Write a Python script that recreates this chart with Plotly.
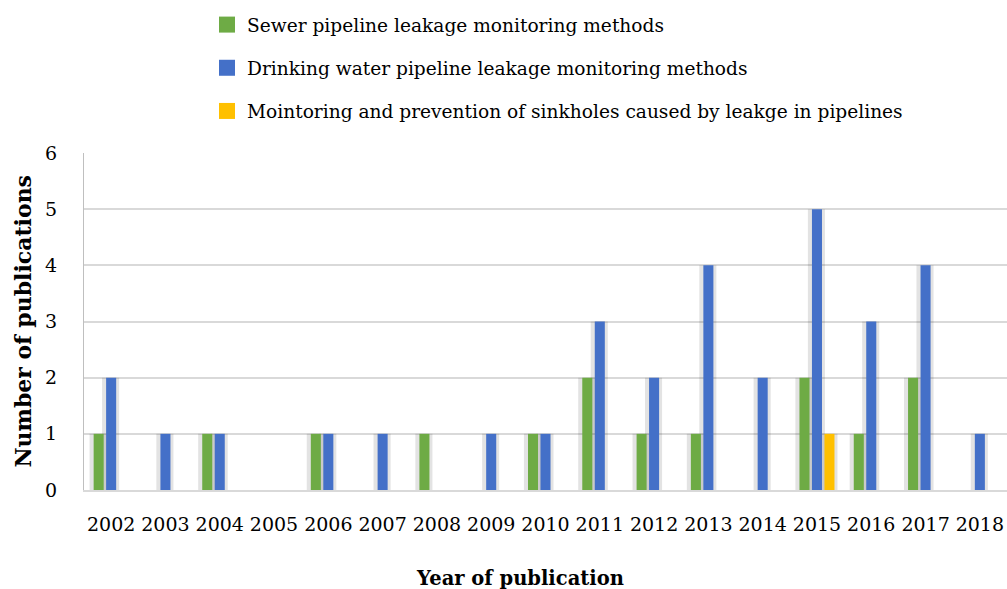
import plotly.graph_objects as go

years = [str(y) for y in range(2002, 2019)]
sewer = [1, 0, 1, 0, 1, 0, 1, 0, 1, 2, 1, 1, 0, 2, 1, 2, 0]
drinking = [2, 1, 1, 0, 1, 1, 0, 1, 1, 3, 2, 4, 2, 5, 3, 4, 1]
sinkholes = [0, 0, 0, 0, 0, 0, 0, 0, 0, 0, 0, 0, 0, 1, 0, 0, 0]

names = [
    "Sewer pipeline leakage monitoring methods",
    "Drinking water pipeline leakage monitoring methods",
    "Mointoring and prevention of sinkholes caused by leakge in pipelines",
]
colors = ["#6EAB45", "#4470C8", "#FFC000"]
series = [sewer, drinking, sinkholes]

FONT = "DejaVu Serif"
bw = 0.185
step = 0.23
offsets = [-step - bw / 2, -bw / 2, step - bw / 2]

W, H = 1007, 589
L, T, B = 84, 153, 99
PW, PH = W - L, H - T - B

fig = go.Figure()
# soft shadows behind bars
for vals, off in zip(series, offsets):
    fig.add_trace(go.Bar(
        x=years, y=[v if v > 0 else None for v in vals],
        width=bw + 0.13, offset=off - 0.075,
        marker=dict(color="rgba(0,0,0,0.11)", line=dict(width=0)),
        showlegend=False, hoverinfo="skip",
    ))
for i, (vals, off, name, col) in enumerate(zip(series, offsets, names, colors)):
    fig.add_trace(go.Bar(
        x=years, y=[v if v > 0 else None for v in vals],
        width=bw, offset=off, name=name, legendgroup=f"g{i}",
        marker=dict(color=col, line=dict(width=0)),
        showlegend=False,
    ))
    # legend entry with a larger square swatch
    fig.add_trace(go.Scatter(
        x=[None], y=[None], mode="markers", name=name, legendgroup=f"g{i}",
        marker=dict(symbol="square", size=16, color=col),
        hoverinfo="skip",
    ))

fig.update_layout(
    width=W, height=H,
    barmode="overlay",
    paper_bgcolor="white", plot_bgcolor="white",
    margin=dict(l=L, r=0, t=T, b=B, autoexpand=False),
    font=dict(family=FONT, size=19, color="#000000"),
    legend=dict(
        x=(207 - L) / PW, xanchor="left",
        y=1 + (T - 6) / PH, yanchor="top",
        orientation="v", tracegroupgap=16, itemsizing="trace",
        font=dict(family=FONT, size=18.6, color="#000000"),
        bgcolor="rgba(0,0,0,0)",
    ),
    xaxis=dict(
        type="category", showgrid=False, showline=True,
        linecolor="#D9D9D9", linewidth=1.5, ticks="",
        ticklabelstandoff=16,
        tickfont=dict(family=FONT, size=19),
    ),
    yaxis=dict(
        range=[0, 6], dtick=1, showgrid=True, gridcolor="#D9D9D9",
        gridwidth=1.5, showline=True, linecolor="#BFBFBF", linewidth=1,
        zeroline=False, ticks="", ticklabelstandoff=22,
        tickfont=dict(family=FONT, size=19),
    ),
    annotations=[
        dict(text="<b>Number of publications</b>", textangle=-90,
             xref="paper", yref="paper", x=(22 - L) / PW, y=0.5,
             xanchor="center", yanchor="middle",
             showarrow=False, font=dict(family=FONT, size=22)),
        dict(text="<b>Year of publication</b>",
             xref="paper", yref="paper", x=(520 - L) / PW,
             y=-(578 - (T + PH)) / PH, xanchor="center", yanchor="middle",
             showarrow=False, font=dict(family=FONT, size=19.5)),
    ],
)

fig.write_html(
    "out.html",
    config={"displayModeBar": False},
    post_script="document.body.style.margin='0';document.body.style.overflow='hidden';",
)
